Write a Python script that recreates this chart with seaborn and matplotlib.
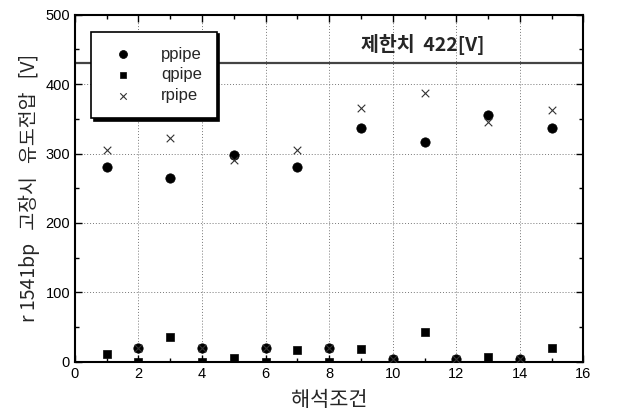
import matplotlib
matplotlib.use("Agg")
import matplotlib.pyplot as plt
import seaborn as sns
import pandas as pd
from matplotlib.ticker import MultipleLocator

# 해석조건 1..15
cases = [1, 2, 3, 4, 5, 6, 7, 8, 9, 10, 11, 12, 13, 14, 15]
ppipe = [281, 20, 265, 20, 298, 20, 281, 20, 336, 4, 316, 4, 355, 4, 336]
qpipe = [12, 0, 36, 0, 6, 0, 17, 0, 18, 0, 43, 0, 7, 0, 20]
rpipe = [305, 20, 323, 20, 290, 20, 305, 20, 366, 4, 387, 4, 345, 4, 363]
limit = 430
limit_label = "제한치  422[V]"

sns.set_theme(style="ticks")
plt.rcParams['font.family'] = ['Liberation Sans', 'Noto Sans CJK KR', 'DejaVu Sans']
kr = ['Noto Sans CJK KR', 'DejaVu Sans']

df = pd.DataFrame({"case": cases, "ppipe": ppipe, "qpipe": qpipe, "rpipe": rpipe})

fig = plt.figure(figsize=(6.24, 4.16), dpi=100)
ax = fig.add_axes([0.12, 0.13, 0.815, 0.835])

sns.scatterplot(data=df, x="case", y="ppipe", marker="o", color="black", s=45,
                edgecolor="black", label="ppipe", ax=ax, zorder=3)
sns.scatterplot(data=df, x="case", y="qpipe", marker="s", color="black", s=35,
                edgecolor="black", label="qpipe", ax=ax, zorder=3)
sns.scatterplot(data=df, x="case", y="rpipe", marker="x", color="#333333", s=30,
                linewidth=0.8, label="rpipe", ax=ax, zorder=4)

ax.axhline(limit, color="#444444", lw=1.6, zorder=2)
ax.text(9.0, 457, limit_label, fontsize=14, fontweight="bold", family=kr,
        va="center")

ax.set_xlim(0, 16)
ax.set_ylim(0, 500)
ax.xaxis.set_major_locator(MultipleLocator(2))
ax.xaxis.set_minor_locator(MultipleLocator(1))
ax.yaxis.set_major_locator(MultipleLocator(100))
ax.yaxis.set_minor_locator(MultipleLocator(50))
ax.tick_params(which="both", direction="in", top=True, right=True, colors="black",
               labelsize=10.5)
ax.tick_params(which="major", length=5, width=1)
ax.tick_params(which="minor", length=3, width=1)
ax.grid(True, which="major", color="#777777", linestyle=(0, (1, 2)), lw=0.7)
for sp in ax.spines.values():
    sp.set_linewidth(1.5)
    sp.set_color("black")

ax.set_xlabel("해석조건", fontsize=15, family=kr, labelpad=6)
ax.set_ylabel("r 1541bp   고장시   유도전압   [V]", fontsize=14, family=kr)

leg = ax.legend(loc="upper left", bbox_to_anchor=(0.015, 0.975), fontsize=12,
                frameon=True, fancybox=False, edgecolor="black",
                shadow={'color': 'black', 'alpha': 1}, borderpad=0.9,
                handletextpad=1.3, labelspacing=0.35, markerscale=0.85)
leg.get_frame().set_linewidth(1.2)

fig.savefig("out.png", dpi=100)
